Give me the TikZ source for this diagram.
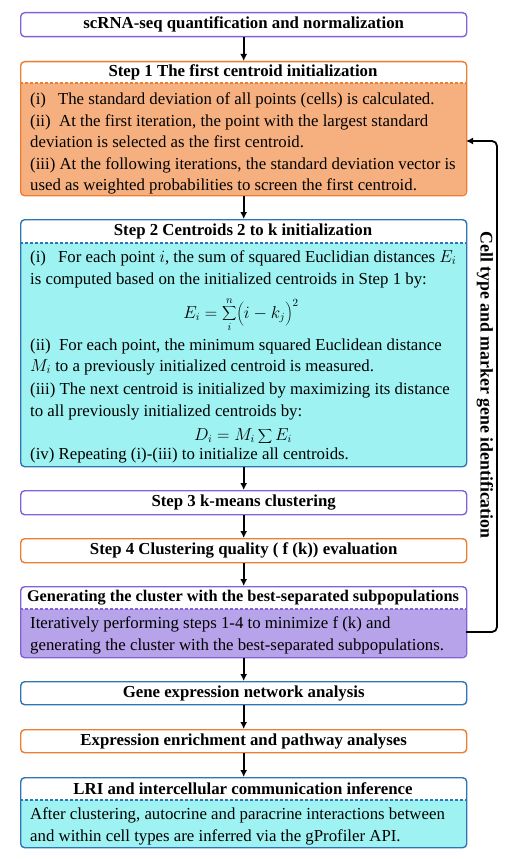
\documentclass[tikz,border=0pt]{standalone}
\usepackage{fontspec}
\setmainfont{Liberation Serif}
\usetikzlibrary{arrows.meta}
\definecolor{orD}{HTML}{ED7D31}
\definecolor{orL}{HTML}{F6B080}
\definecolor{blD}{HTML}{2E75B6}
\definecolor{cyL}{HTML}{9EF2F2}
\definecolor{puD}{HTML}{8263D6}
\definecolor{puL}{HTML}{B6A3EA}
\tikzset{
  box/.style={draw, line width=1.4pt, rounded corners=4pt, minimum width=446pt, inner sep=0pt, anchor=north west},
  head/.style={font=\bfseries\fontsize{16.8}{20}\selectfont, inner sep=0pt},
  body/.style={font=\fontsize{16.8}{20}\selectfont, anchor=base west, inner sep=0pt},
  frm/.style={font=\fontsize{16}{20}\selectfont, inner sep=0pt},
  arr/.style={-{Latex[length=7pt,width=7pt]}, line width=1.8pt},
  sep/.style={dash pattern=on 3pt off 2pt, line width=1.2pt},
}
\newcommand\mytwobox[7]{%
  \fill[#6, rounded corners=4pt] (20,#2) rectangle (466,#3);
  \begin{scope}
    \clip[rounded corners=4pt] (20,#2) rectangle (466,#3);
    \fill[white] (20,#2) rectangle (466,#4);
  \end{scope}
  \draw[sep, #5] (20,#4) -- (466,#4);
  \node[box, draw=#5, minimum height=#7] (#1) at (20,#2) {};
}
\begin{document}
\begin{tikzpicture}[x=1pt,y=-1pt]
\useasboundingbox (0,0) rectangle (516,859);

% top box
\node[box, draw=puD, minimum height=24pt, head] (b0) at (20,12) {scRNA-seq quantification and normalization};

% Step 1
\mytwobox{s1}{61}{195}{83}{orD}{orL}{134pt}
\node[head] (s1h) at (243,72) {Step 1 The first centroid initialization};
\node[body] (s1a) at (30,104) {(i)\hspace{12pt}The standard deviation of all points (cells) is calculated.};
\node[body] (s1b) at (30,126) {(ii)\enspace At the first iteration, the point with the largest standard};
\node[body] (s1c) at (30,147) {deviation is selected as the first centroid.};
\node[body] (s1d) at (30,169) {(iii) At the following iterations, the standard deviation vector is};
\node[body] (s1e) at (30,190) {used as weighted probabilities to screen the first centroid.};

% Step 2
\mytwobox{s2}{219}{466}{243}{blD}{cyL}{247pt}
\node[head] (s2h) at (243,231) {Step 2 Centroids 2 to k initialization};
\node[body] (s2a) at (30,262) {(i)\hspace{12pt}For each point $i$, the sum of squared Euclidian distances $E_i$};
\node[body] (s2b) at (30,284) {is computed based on the initialized centroids in Step 1 by:};
\node[frm] (f1) at (241,315) {$\displaystyle E_i=\sum_{i}^{n}\mathopen{}\biggl(i-k_j\biggr)^{2}$};
\node[body] (s2c) at (30,350) {(ii)\enspace For each point, the minimum squared Euclidean distance};
\node[body] (s2d) at (30,371) {$M_i$ to a previously initialized centroid is measured.};
\node[body] (s2e) at (30,394) {(iii) The next centroid is initialized by maximizing its distance};
\node[body] (s2f) at (30,416) {to all previously initialized centroids by:};
\node[frm] (f2) at (243,436) {$\displaystyle D_i = M_i\sum E_i$};
\node[body] (s2g) at (30,459) {(iv) Repeating (i)-(iii) to initialize all centroids.};

% Step 3, Step 4
\node[box, draw=puD, minimum height=24pt, head] (s3) at (20,490) {Step 3 k-means clustering};
\node[box, draw=orD, minimum height=24pt, head] (s4) at (20,538) {Step 4 Clustering quality ( f (k)) evaluation};

% Generating
\mytwobox{g}{586}{657}{609}{puD}{puL}{71pt}
\node[head, font=\bfseries\fontsize{16.3}{20}\selectfont] (gh) at (243,597.5) {Generating the cluster with the best-separated subpopulations};
\node[body] (ga) at (30,628) {Iteratively performing steps 1-4 to minimize f (k) and};
\node[body] (gb) at (30,650) {generating the cluster with the best-separated subpopulations.};

% Gene expression, enrichment
\node[box, draw=blD, minimum height=23pt, head] (ge) at (20,681) {Gene expression network analysis};
\node[box, draw=orD, minimum height=23pt, head] (ee) at (20,729) {Expression enrichment and pathway analyses};

% LRI
\mytwobox{lri}{777}{847}{800}{blD}{cyL}{70pt}
\node[head] (lrih) at (243,788.5) {LRI and intercellular communication inference};
\node[body] (lria) at (30,819) {After clustering, autocrine and paracrine interactions between};
\node[body] (lrib) at (30,841) {and within cell types are inferred via the gProfiler API.};

% arrows
\draw[arr] (b0) -- (s1);
\draw[arr] (s1) -- (s2);
\draw[arr] (s2) -- (s3);
\draw[arr] (s3) -- (s4);
\draw[arr] (s4) -- (g);
\draw[arr] (g) -- (ge);
\draw[arr] (ge) -- (ee);
\draw[arr] (ee) -- (lri);

% feedback loop
\coordinate (fbA) at (466,632);
\coordinate (fbB) at (497,632);
\coordinate (fbC) at (497,141);
\coordinate (fbD) at (466,141);
\draw[arr, rounded corners=5pt] (fbA) -- (fbB) -- (fbC) -- (fbD);
\node[head, rotate=-90, font=\bfseries\fontsize{17.8}{20}\selectfont] (side) at (485,385) {Cell type and marker gene identification};
\end{tikzpicture}
\end{document}
